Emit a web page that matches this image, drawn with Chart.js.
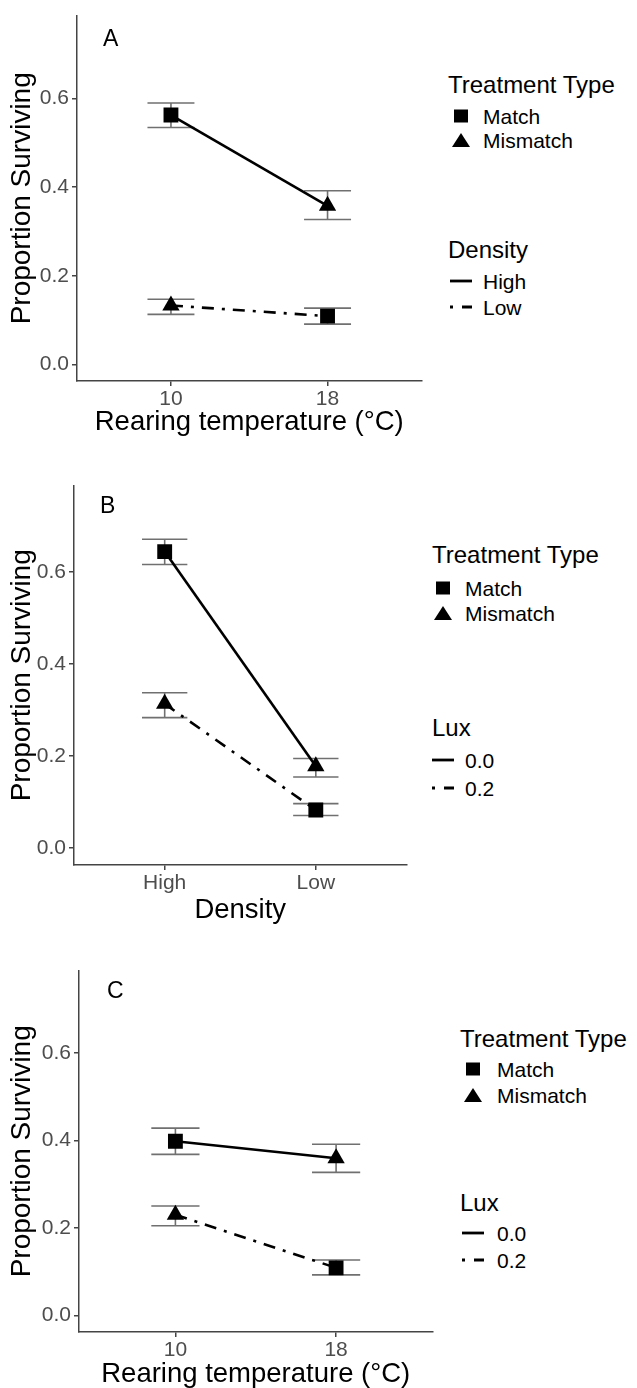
<!DOCTYPE html>
<html>
<head>
<meta charset="utf-8">
<script src="https://cdn.jsdelivr.net/npm/chart.js@4"></script>
<style>
body { margin: 0; width: 637px; height: 1388px; overflow: hidden; background: #fff; position: relative;
  font-family: "Liberation Sans", Arial, sans-serif; }
canvas { position: absolute; left: 0; }
.t { position: absolute; white-space: nowrap; line-height: 1; color: #000; transform: translateY(-50%); }
.lt { font-size: 24px; }
.li { font-size: 21px; }
.pl { font-size: 23px; }
svg { position: absolute; transform: translate(-50%, -50%); overflow: visible; }
</style>
</head>
<body>
<canvas id="chartA" width="432" height="439" style="top:0px"></canvas>
<canvas id="chartB" width="417" height="457" style="top:470px"></canvas>
<canvas id="chartC" width="443" height="436" style="top:955px"></canvas>
<div id="overlay"></div>
<script>
// shared y axis
var yMin = -0.0375, yMax = 0.7875;
var yTicks = [0, 0.2, 0.4, 0.6];
var treatLabels = ['Match', 'Mismatch'];

// Panel A: rearing temperature, lines = density
var aLabels = ['10', '18'];
var aHigh = [0.563, 0.358];
var aHighLo = [0.535, 0.327];
var aHighHi = [0.590, 0.392];
var aHighType = ['Match', 'Mismatch'];
var aLow = [0.133, 0.109];
var aLowLo = [0.113, 0.091];
var aLowHi = [0.147, 0.127];
var aLowType = ['Mismatch', 'Match'];

// Panel B: density, lines = lux
var bLabels = ['High', 'Low'];
var bLux0 = [0.644, 0.177];
var bLux0Lo = [0.616, 0.154];
var bLux0Hi = [0.671, 0.194];
var bLux0Type = ['Match', 'Mismatch'];
var bLux2 = [0.313, 0.082];
var bLux2Lo = [0.283, 0.070];
var bLux2Hi = [0.337, 0.096];
var bLux2Type = ['Mismatch', 'Match'];

// Panel C: rearing temperature, lines = lux
var cLabels = ['10', '18'];
var cLux0 = [0.398, 0.359];
var cLux0Lo = [0.368, 0.327];
var cLux0Hi = [0.428, 0.391];
var cLux0Type = ['Match', 'Mismatch'];
var cLux2 = [0.230, 0.109];
var cLux2Lo = [0.205, 0.093];
var cLux2Hi = [0.250, 0.127];
var cLux2Type = ['Mismatch', 'Match'];

var font = '"Liberation Sans", Arial, sans-serif';

var errorBars = {
  id: 'errorBars',
  beforeDatasetsDraw: function (chart) {
    var ctx = chart.ctx, xs = chart.scales.x, ys = chart.scales.y;
    ctx.save();
    ctx.strokeStyle = '#707070';
    ctx.lineWidth = 1.6;
    chart.data.datasets.forEach(function (ds) {
      ds.data.forEach(function (p, i) {
        var x = xs.getPixelForValue(p.x);
        var x0 = xs.getPixelForValue(p.x - 0.15), x1 = xs.getPixelForValue(p.x + 0.15);
        var yl = ys.getPixelForValue(ds.lo[i]), yh = ys.getPixelForValue(ds.hi[i]);
        ctx.beginPath();
        ctx.moveTo(x0, yh); ctx.lineTo(x1, yh);
        ctx.moveTo(x0, yl); ctx.lineTo(x1, yl);
        ctx.moveTo(x, yl); ctx.lineTo(x, yh);
        ctx.stroke();
      });
    });
    ctx.restore();
  }
};

function series(vals, lo, hi, types, dash) {
  return {
    data: vals.map(function (v, i) { return { x: i + 1, y: v }; }),
    lo: lo,
    hi: hi,
    borderColor: '#000',
    borderWidth: 2.6,
    borderDash: dash ? [12, 8, 3, 8] : [],
    pointStyle: types.map(function (t) { return t === 'Match' ? 'rect' : 'triangle'; }),
    pointRadius: types.map(function (t) { return t === 'Match' ? 10.5 : 10; }),
    pointBackgroundColor: '#000',
    pointBorderColor: '#000',
    pointBorderWidth: 0,
    tension: 0
  };
}

function makePanel(id, labels, xTitle, sets, box) {
  var axisCol = '#444';
  new Chart(document.getElementById(id), {
    type: 'line',
    data: { datasets: sets },
    options: {
      responsive: false,
      animation: false,
      layout: { padding: { top: box.top, right: box.right, left: 0, bottom: 0 } },
      plugins: { legend: { display: false }, tooltip: { enabled: false } },
      scales: {
        x: {
          type: 'linear', min: 0.4, max: 2.6,
          afterBuildTicks: function (s) { s.ticks = [{ value: 1 }, { value: 2 }]; },
          afterFit: function (s) { s.height = box.xh; },
          ticks: { callback: function (v) { return labels[v - 1]; }, color: '#4d4d4d',
            font: { family: font, size: 21 }, padding: 1, maxRotation: 0 },
          grid: { drawOnChartArea: false, tickLength: 5, color: axisCol, lineWidth: 1.5 },
          border: { color: axisCol, width: 1.5 },
          title: { display: true, text: xTitle, color: '#000', font: { family: font, size: 27.5 }, padding: 0 }
        },
        y: {
          min: yMin, max: yMax,
          afterBuildTicks: function (s) { s.ticks = yTicks.map(function (v) { return { value: v }; }); },
          afterFit: function (s) { s.width = box.left; },
          ticks: { callback: function (v) { return v.toFixed(1); }, color: '#4d4d4d',
            font: { family: font, size: 21 }, padding: 3 },
          grid: { drawOnChartArea: false, tickLength: 5, color: axisCol, lineWidth: 1.5 },
          border: { color: axisCol, width: 1.5 },
          title: { display: true, text: 'Proportion Surviving', color: '#000',
            font: { family: font, size: 28 }, padding: { top: 5, bottom: 0 } }
        }
      }
    },
    plugins: [errorBars]
  });
}

makePanel('chartA', aLabels, 'Rearing temperature (°C)', [
  series(aHigh, aHighLo, aHighHi, aHighType, false),
  series(aLow, aLowLo, aLowHi, aLowType, true)
], { top: 8, right: 10, left: 77, xh: 58 });

makePanel('chartB', bLabels, 'Density', [
  series(bLux0, bLux0Lo, bLux0Hi, bLux0Type, false),
  series(bLux2, bLux2Lo, bLux2Hi, bLux2Type, true)
], { top: 7, right: 10, left: 74, xh: 62 });

makePanel('chartC', cLabels, 'Rearing temperature (°C)', [
  series(cLux0, cLux0Lo, cLux0Hi, cLux0Type, false),
  series(cLux2, cLux2Lo, cLux2Hi, cLux2Type, true)
], { top: 8, right: 10, left: 79, xh: 59 });

// legends and panel letters
var overlay = document.getElementById('overlay');
function text(str, cls, x, y) {
  var d = document.createElement('div');
  d.className = 't ' + cls;
  d.style.left = x + 'px';
  d.style.top = y + 'px';
  d.textContent = str;
  overlay.appendChild(d);
}
function symbol(kind, x, y) {
  var s = '';
  if (kind === 'Match') s = '<svg width="14" height="13"><rect x="0" y="0" width="14" height="13" fill="#000"/></svg>';
  else if (kind === 'Mismatch') s = '<svg width="18" height="14"><polygon points="9,0 18,14 0,14" fill="#000"/></svg>';
  else if (kind === 'solid') s = '<svg width="22" height="4"><line x1="0" y1="2" x2="22" y2="2" stroke="#000" stroke-width="2.8"/></svg>';
  else s = '<svg width="22" height="4"><line x1="0" y1="2" x2="22" y2="2" stroke="#000" stroke-width="2.8" stroke-dasharray="3 9 10 0"/></svg>';
  var w = document.createElement('div');
  w.innerHTML = s;
  var el = w.firstChild;
  el.style.left = x + 'px';
  el.style.top = y + 'px';
  overlay.appendChild(el);
}
function legend(lineTitle, lineLabels, p) {
  text('Treatment Type', 'lt', p.x, p.y0);
  treatLabels.forEach(function (lab, i) {
    symbol(lab, p.sx, p.ty[i]);
    text(lab, 'li', p.tx, p.ty[i]);
  });
  text(lineTitle, 'lt', p.x, p.y1);
  lineLabels.forEach(function (lab, i) {
    symbol(i === 0 ? 'solid' : 'dash', p.sx, p.ly[i]);
    text(lab, 'li', p.tx, p.ly[i]);
  });
}
legend('Density', ['High', 'Low'], { x: 448, y0: 85, sx: 461, tx: 483, ty: [116, 140], y1: 250, ly: [281, 307] });
legend('Lux', ['0.0', '0.2'], { x: 432, y0: 555, sx: 443, tx: 465, ty: [588, 613], y1: 728, ly: [760, 788] });
legend('Lux', ['0.0', '0.2'], { x: 460, y0: 1039, sx: 473, tx: 497, ty: [1069, 1095], y1: 1203, ly: [1233, 1260] });

text('A', 'pl', 103, 38);
text('B', 'pl', 100, 505);
text('C', 'pl', 107, 990);
</script>
</body>
</html>
